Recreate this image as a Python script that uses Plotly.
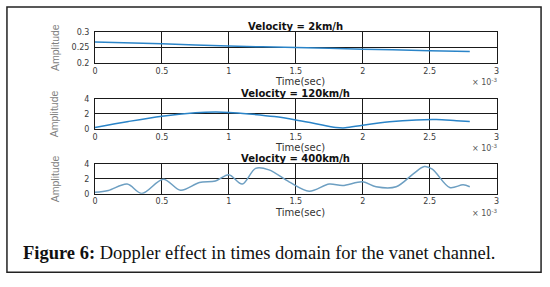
import plotly.graph_objects as go

# Data (time in units of 1e-3 s)
t1 = [0, 0.5, 1.0, 1.5, 2.0, 2.5, 2.8]
amp_2kmh = [0.268, 0.262, 0.255, 0.250, 0.245, 0.240, 0.237]

t2 = [0, 0.25, 0.5, 0.75, 0.9, 1.0, 1.15, 1.34, 1.5, 1.65, 1.8, 1.87, 2.0, 2.2, 2.4, 2.55, 2.7, 2.8]
amp_120kmh = [0.2, 1.0, 1.7, 2.15, 2.25, 2.2, 2.0, 1.65, 1.2, 0.7, 0.2, 0.15, 0.5, 0.95, 1.2, 1.25, 1.1, 1.0]

t3 = [0, 0.1, 0.24, 0.35, 0.51, 0.64, 0.78, 0.9, 1.0, 1.1, 1.2, 1.3, 1.45, 1.6, 1.75, 1.85, 2.0, 2.1, 2.25, 2.38, 2.46, 2.52, 2.65, 2.75, 2.8]
amp_400kmh = [0.2, 0.45, 1.3, 0.05, 1.95, 0.47, 1.5, 1.7, 2.55, 1.3, 3.4, 3.2, 1.6, 0.35, 1.3, 1.1, 1.6, 0.95, 0.95, 2.7, 3.65, 3.3, 0.85, 1.2, 0.95]

titles = ["Velocity = 2km/h", "Velocity = 120km/h", "Velocity = 400km/h"]
x_ticks = [0, 0.5, 1, 1.5, 2, 2.5, 3]
x_ticklabels = ["0", "0.5", "1", "1.5", "2", "2.5", "3"]
y_ticks = [[0.2, 0.25, 0.3], [0, 2, 4], [0, 2, 4]]
y_ranges = [[0.2, 0.3], [0, 4], [0, 4]]
caption_bold = "Figure 6:"
caption_text = " Doppler effect in times domain for the vanet channel."

W, H = 550, 287
xdom = [93 / W, 499 / W]
ypix = [(29, 61), (98, 129), (165, 196)]
ydoms = [[1 - b / H, 1 - t / H] for t, b in ypix]

colors = ["#2a84c8", "#2a84c8", "#6d9fc2"]
series = [(t1, amp_2kmh), (t2, amp_120kmh), (t3, amp_400kmh)]

fig = go.Figure()
axfont = dict(family="DejaVu Sans", size=8, color="#3a3a3a")

for i, ((tx, ty), col) in enumerate(zip(series, colors)):
    n = i + 1
    xa = "x" if n == 1 else f"x{n}"
    ya = "y" if n == 1 else f"y{n}"
    fig.add_trace(go.Scatter(x=tx, y=ty, mode="lines",
                             line=dict(color=col, width=1.5, shape="spline", smoothing=0.9),
                             xaxis=xa, yaxis=ya, showlegend=False, hoverinfo="skip"))
    xkey = "xaxis" if n == 1 else f"xaxis{n}"
    ykey = "yaxis" if n == 1 else f"yaxis{n}"
    fig.layout[xkey] = dict(domain=xdom, anchor=ya, range=[0, 3], tickvals=x_ticks,
                            ticktext=x_ticklabels, showgrid=True, gridcolor="#1a1a1a",
                            gridwidth=1, showline=True, linecolor="#1a1a1a", linewidth=1,
                            mirror=True, zeroline=False, ticks="", tickfont=axfont,
                            fixedrange=True)
    fig.layout[ykey] = dict(domain=ydoms[i], anchor=xa, range=y_ranges[i], tickvals=y_ticks[i],
                            showgrid=True, gridcolor="#1a1a1a", gridwidth=1, showline=True,
                            linecolor="#1a1a1a", linewidth=1, mirror=True, zeroline=False,
                            ticks="", tickfont=axfont, ticklabelstandoff=3, fixedrange=True)
    top, bot = ypix[i]
    # subplot title
    fig.add_annotation(text=f"<b>{titles[i]}</b>", xref="paper", yref="paper",
                       x=(xdom[0] + xdom[1]) / 2, y=1 - (top - 6) / H, showarrow=False,
                       font=dict(family="DejaVu Sans", size=10, color="#111"),
                       xanchor="center", yanchor="middle", borderpad=0)
    # x title
    fig.add_annotation(text="Time(sec)", xref="paper", yref="paper",
                       x=300 / W, y=1 - (bot + 19.5) / H, showarrow=False,
                       font=dict(family="DejaVu Sans", size=10, color="#333"),
                       xanchor="center", yanchor="middle", borderpad=0)
    # exponent
    fig.add_annotation(text="× 10<sup>-3</sup>", xref="paper", yref="paper",
                       x=500 / W, y=1 - (bot + 19.5) / H, showarrow=False,
                       font=dict(family="DejaVu Sans", size=8, color="#555"),
                       xanchor="right", yanchor="middle", borderpad=0)
    # y title
    fig.add_annotation(text="Amplitude", xref="paper", yref="paper",
                       x=52 / W, y=1 - ((top + bot) / 2) / H, showarrow=False, textangle=-90,
                       font=dict(family="Liberation Sans Narrow, Arial", size=10.5, color="#808080"),
                       xanchor="center", yanchor="middle", borderpad=0)

# caption
fig.add_annotation(text=f"<b>{caption_bold}</b>{caption_text}", xref="paper", yref="paper",
                   x=18 / W, y=1 - 257 / H, showarrow=False, xanchor="left", yanchor="middle",
                   font=dict(family="Liberation Serif, serif", size=18.5, color="#111"))

# outer frame
fig.add_shape(type="rect", xref="paper", yref="paper", x0=4 / W, x1=544 / W,
              y0=1 - 277 / H, y1=1 - 3 / H, line=dict(color="#222", width=1.5))

fig.update_layout(width=W, height=H, margin=dict(l=0, r=0, t=0, b=0),
                  paper_bgcolor="white", plot_bgcolor="white")

fig.write_html("out.html", config={"displayModeBar": False},
               post_script="document.body.style.margin='0';document.body.style.overflow='hidden';")
